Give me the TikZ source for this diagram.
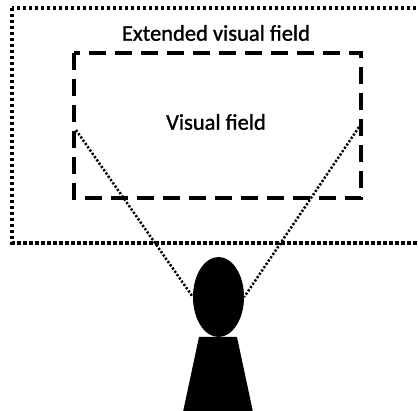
\documentclass[tikz,border=0pt]{standalone}
\usepackage{fontspec}
\setmainfont{Carlito}
\newfontfamily\lblfont[FakeBold=1.2]{Carlito}
\usetikzlibrary{shapes.geometric}
\begin{document}
\begin{tikzpicture}[x=1pt,y=-1pt,
  outerbox/.style={draw=black,line width=3.5pt,dash pattern=on 3.5pt off 2.5pt,inner sep=0pt},
  innerbox/.style={draw=black,line width=4.5pt,dash pattern=on 17pt off 9pt,inner sep=0pt},
  sight/.style={draw=black,line width=2.5pt,dash pattern=on 2.2pt off 1.8pt},
  label/.style={font=\lblfont\fontsize{22.5}{26}\selectfont,inner sep=0pt},
  person/.style={fill=black,draw=none}]
\useasboundingbox (0,0) rectangle (418,411);
\fill[white] (0,0) rectangle (418,411);
\draw[outerbox] (12,8) rectangle (432,243);
\node[label] (ext) at (216,33) {Extended visual field};
\draw[innerbox] (74,53) rectangle (361,198);
\node[label] (vis) at (216,122) {Visual field};
\node[person,ellipse,minimum width=51pt,minimum height=80pt,inner sep=0pt] (head) at (218.5,297) {};
\fill[black] (199,337) -- (237,337) -- (253,412) -- (183,412) -- cycle;
\coordinate (lv) at (76,130);
\coordinate (rv) at (359,127);
\draw[sight] (lv) -- (head.west);
\draw[sight] (rv) -- (head.east);
\end{tikzpicture}
\end{document}
